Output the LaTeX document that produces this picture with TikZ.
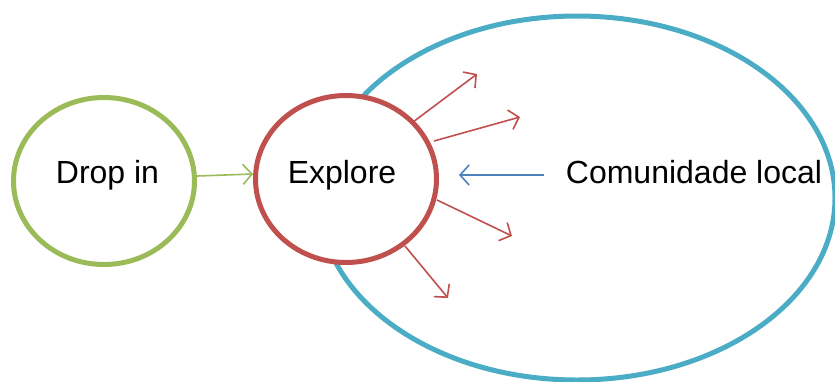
\documentclass[tikz,border=0pt]{standalone}
\usepackage{fontspec}
\setmainfont{Liberation Sans}
\usetikzlibrary{shapes.geometric,arrows.meta}
\definecolor{cgreen}{HTML}{9BBB59}
\definecolor{cred}{HTML}{C0504D}
\definecolor{cblue}{HTML}{4BACC6}
\definecolor{carrow}{HTML}{4F81BD}
\begin{document}
\begin{tikzpicture}[x=1pt,y=-1pt,
  circ/.style={ellipse,draw,line width=5pt,fill=white,inner sep=0pt,minimum width=181pt,minimum height=167pt},
  lbl/.style={anchor=base,inner sep=0pt,font=\fontsize{32}{38}\selectfont},
  ar/.style={line width=1.6pt,-{Straight Barb[length=9pt,width=20pt,line width=1.6pt]}}]
\useasboundingbox (0,0) rectangle (835,381);
\clip (0,0) rectangle (835,381);
\node[ellipse,draw=cblue,line width=5pt,inner sep=0pt,minimum width=516pt,minimum height=364pt] (comm) at (577,198) {};
\node[circ,draw=cgreen] (drop) at (104,181) {};
\node[circ,draw=cred] (explore) at (346,179) {};
\node[lbl] (tdrop) at (107.5,183) {Drop in};
\node[lbl] (texplore) at (342,183) {Explore};
\node[lbl] (tcomm) at (694,183) {Comunidade local};
\coordinate (e1) at (477,74);
\coordinate (e2) at (520,117);
\coordinate (e3) at (512,236);
\coordinate (e4) at (448,298);
\coordinate (bs) at (544,175);
\coordinate (be) at (459,175);
\draw[ar,draw=cred] (413,122) -- (e1);
\draw[ar,draw=cred] (434,141) -- (e2);
\draw[ar,draw=cred] (437,200) -- (e3);
\draw[ar,draw=cred] (405,246) -- (e4);
\draw[ar,draw=carrow] (bs) -- (be);
\draw[ar,draw=cgreen] (drop.east |- 0,176) -- (explore.west |- 0,174);
\end{tikzpicture}
\end{document}
